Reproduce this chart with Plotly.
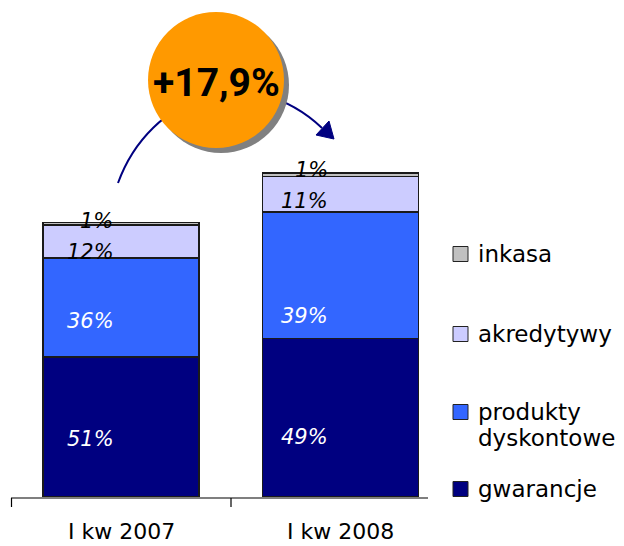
import plotly.graph_objects as go

# --- data -------------------------------------------------------------
periods = ["I kw 2007", "I kw 2008"]
period_totals = [100.0, 117.9]          # volume index, first quarter 2007 = 100

series_names = ["gwarancje", "produkty\ndyskontowe", "akredytywy", "inkasa"]
shares_2007 = [51, 36, 12, 1]           # % structure, I kw 2007
shares_2008 = [49, 39, 11, 1]           # % structure, I kw 2008

# --- styling ----------------------------------------------------------
W, H = 624, 546
colors = ["#000080", "#3366FF", "#CCCCFF", "#C0C0C0"]
label_colors = ["white", "white", "black", "black"]
FONT = "DejaVu Sans, Verdana, sans-serif"

# pixel nudges of the in-bar percentage labels (xshift, yshift) per period
label_nudges = [
    [(-31, -12), (-31, -14), (-31, -10), (-25, 3)],
    [(-36, -19), (-36, -41), (-36, -7), (-29, 5)],
]


def px(x):
    return x / W


def py(y):
    return 1 - y / H


shares = [shares_2007, shares_2008]

fig = go.Figure()
xs = list(range(len(periods)))
for s, name in enumerate(series_names):
    heights = [shares[p][s] * period_totals[p] / 100 for p in range(len(periods))]
    fig.add_trace(go.Bar(
        x=xs, y=heights, name=name.replace("\n", " "), width=0.712,
        marker=dict(color=colors[s], line=dict(color="#1a1a1a", width=1.3)),
        hoverinfo="skip", showlegend=False,
    ))

annotations = []
# in-bar percentage labels
for p in range(len(periods)):
    base = 0.0
    for s in range(len(series_names)):
        h = shares[p][s] * period_totals[p] / 100
        dx, dy = label_nudges[p][s]
        annotations.append(dict(
            x=xs[p], y=base + h / 2, xref="x", yref="y",
            text=f"<i>{shares[p][s]}%</i>", showarrow=False,
            xshift=dx, yshift=dy,
            font=dict(family=FONT, size=21, color=label_colors[s]),
        ))
        base += h

# category labels under the axis
for p, name in enumerate(periods):
    annotations.append(dict(
        x=xs[p], y=py(531), xref="x", yref="paper", text=name,
        showarrow=False, yanchor="middle",
        font=dict(family=FONT, size=22, color="black"),
    ))

shapes = []
# category axis line and tick marks
shapes.append(dict(type="line", xref="paper", yref="paper",
                   x0=px(11), x1=px(428), y0=py(498), y1=py(498),
                   line=dict(color="black", width=1.2)))
for tx in (11.5, 231):
    shapes.append(dict(type="line", xref="paper", yref="paper",
                       x0=px(tx), x1=px(tx), y0=py(498), y1=py(507),
                       line=dict(color="black", width=1.2)))

# legend drawn beside the plot (top to bottom: reverse stacking order)
legend_rows = [254, 334, 412, 489]
for i, s in enumerate(reversed(range(len(series_names)))):
    cy = legend_rows[i]
    shapes.append(dict(type="rect", xref="paper", yref="paper",
                       x0=px(453), x1=px(468), y0=py(cy - 7.5), y1=py(cy + 7.5),
                       fillcolor=colors[s], line=dict(color="#222", width=1)))
    for k, line in enumerate(series_names[s].split("\n")):
        annotations.append(dict(
            x=px(476), y=py(cy + 26 * k), xref="paper", yref="paper",
            text=line, showarrow=False, xanchor="left", yanchor="middle",
            font=dict(family=FONT, size=23, color="black"),
        ))


def pt(x, y):
    return f"{px(x)},{py(y)}"


# growth arrow arc, passing behind the badge
shapes.append(dict(type="path", xref="paper", yref="paper",
                   path=f"M {pt(118, 183)} C {pt(150, 95)} {pt(250, 60)} {pt(322, 128)}",
                   line=dict(color="#000080", width=2)))
shapes.append(dict(type="path", xref="paper", yref="paper",
                   path=f"M {pt(334, 139)} L {pt(316, 135)} L {pt(329, 121)} Z",
                   fillcolor="#000080", line=dict(color="#000080", width=1)))

# badge with shadow
cx, cy, r = 216, 80, 68
shapes.append(dict(type="circle", xref="paper", yref="paper",
                   x0=px(cx - r + 5), x1=px(cx + r + 5), y0=py(cy + r + 5), y1=py(cy - r + 5),
                   fillcolor="#808080", line=dict(width=0)))
shapes.append(dict(type="circle", xref="paper", yref="paper",
                   x0=px(cx - r), x1=px(cx + r), y0=py(cy + r), y1=py(cy - r),
                   fillcolor="#FF9900", line=dict(width=0)))

growth = (period_totals[1] / period_totals[0] - 1) * 100
growth_text = f"+{growth:.1f}%".replace(".", ",")
annotations.append(dict(
    x=px(cx), y=py(83), xref="paper", yref="paper", text=f"<b>{growth_text}</b>",
    showarrow=False, xanchor="center", yanchor="middle",
    font=dict(family="Roboto, Liberation Sans Narrow, sans-serif", size=39, color="black"),
))

fig.update_layout(
    width=W, height=H, margin=dict(l=0, r=0, t=0, b=0),
    paper_bgcolor="white", plot_bgcolor="white",
    barmode="stack", showlegend=False,
    xaxis=dict(domain=[px(11.25), px(450.25)], range=[-0.5, 1.5], visible=False, fixedrange=True),
    yaxis=dict(domain=[py(497), py(139.9)], range=[0, 130], visible=False, fixedrange=True),
    shapes=shapes, annotations=annotations,
)

fig.write_html("out.html")
